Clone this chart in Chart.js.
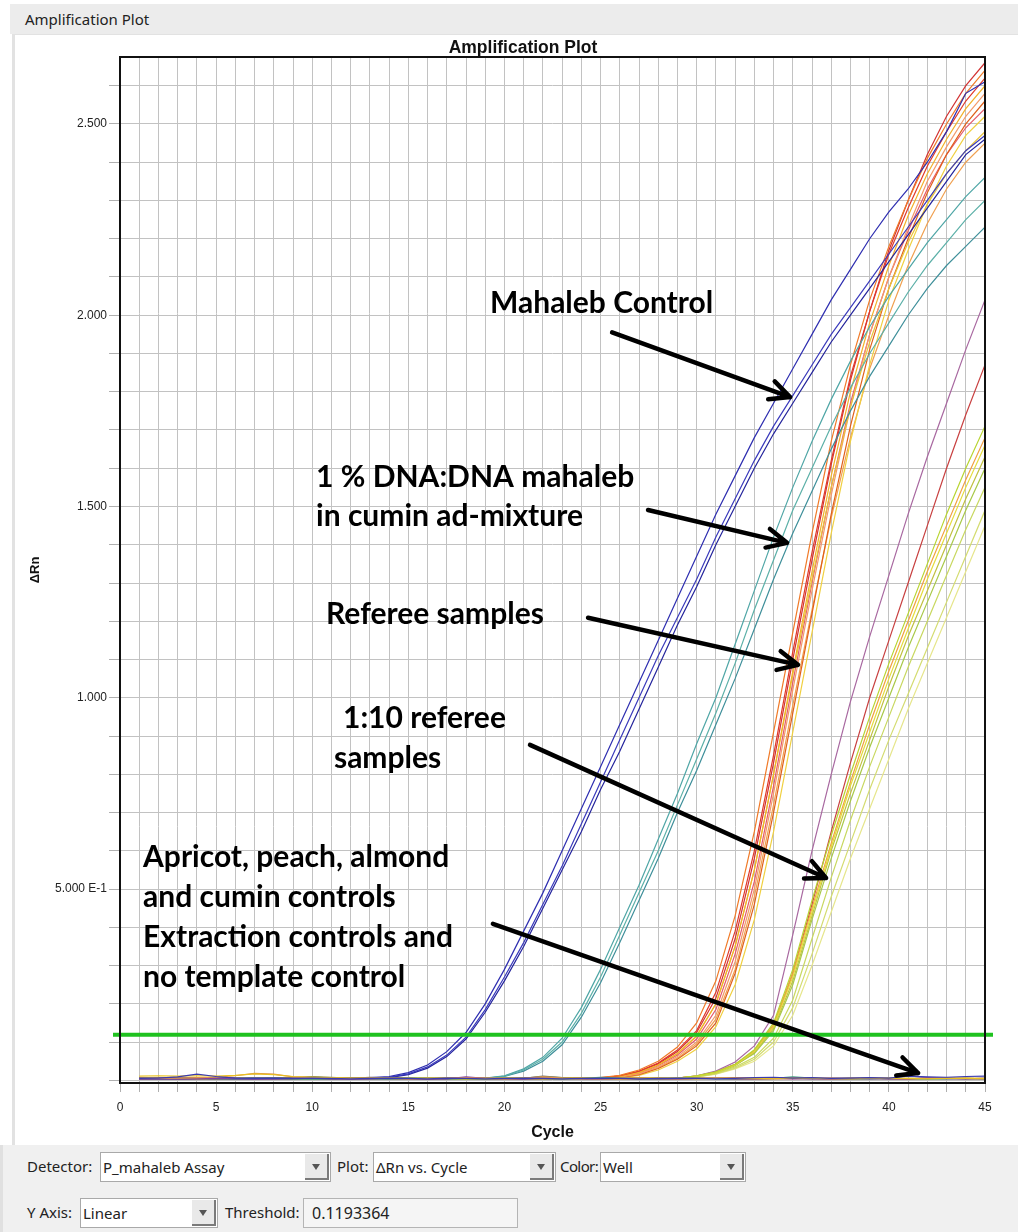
<!DOCTYPE html>
<html>
<head>
<meta charset="utf-8">
<script src="https://cdn.jsdelivr.net/npm/chart.js@4.4.1/dist/chart.umd.min.js"></script>
<style>
  body { margin: 0; width: 1018px; height: 1232px; position: relative; overflow: hidden; background: #fff; font-family: "Noto Sans", sans-serif; color: #222; }
  #hdr { position: absolute; left: 10px; top: 4px; width: 1008px; height: 30px; background: #ececec; font-size: 15px; line-height: 30px; padding-left: 15px; box-sizing: border-box; }
  #panel { position: absolute; left: 12px; top: 34px; width: 1006px; height: 1111px; border-left: 3px solid #e2e2e2; border-top: 1px solid #e2e2e2; box-sizing: border-box; background: #fff; }
  #amp { position: absolute; left: 0; top: 0; }
  #controls { position: absolute; left: 0; top: 1145px; width: 1018px; height: 87px; background: #f0f0f0; border-left: 3px solid #e0e0e0; box-sizing: border-box; }
  .lbl { position: absolute; font-size: 15px; line-height: 20px; }
  .combo { position: absolute; height: 30px; background: #fff; border: 1px solid #a9a9a9; box-sizing: border-box; }
  .combo .txt { position: absolute; left: 2px; top: 4px; font-size: 15px; line-height: 20px; }
  .combo .btn { position: absolute; right: 1px; top: 1px; width: 24px; height: 26px; background: #e9e9e9; border-right: 2px solid #7a7a7a; border-bottom: 2px solid #7a7a7a; box-sizing: border-box; }
  .combo .btn::after { content: ""; position: absolute; left: 7px; top: 10px; border-left: 4px solid transparent; border-right: 4px solid transparent; border-top: 6px solid #555; }
  .field { position: absolute; height: 30px; background: #f5f5f5; border: 1px solid #b4b4b4; box-sizing: border-box; font-size: 16px; line-height: 28px; padding-left: 8px; }
</style>
</head>
<body>
<div id="hdr">Amplification Plot</div>
<div id="panel"></div>
<canvas id="amp" width="1018" height="1145"></canvas>
<div id="controls">
  <div class="lbl" style="left:24px; top:11px;">Detector:</div>
  <div class="combo" style="left:97px; top:7px; width:231px;"><span class="txt">P_mahaleb Assay</span><div class="btn"></div></div>
  <div class="lbl" style="left:334px; top:11px;">Plot:</div>
  <div class="combo" style="left:370px; top:7px; width:183px;"><span class="txt">ΔRn vs. Cycle</span><div class="btn"></div></div>
  <div class="lbl" style="left:557px; top:11px; letter-spacing:-0.6px;">Color:</div>
  <div class="combo" style="left:597px; top:7px; width:146px;"><span class="txt">Well</span><div class="btn"></div></div>
  <div class="lbl" style="left:24px; top:57px;">Y Axis:</div>
  <div class="combo" style="left:77px; top:53px; width:138px;"><span class="txt">Linear</span><div class="btn"></div></div>
  <div class="lbl" style="left:222px; top:57px;">Threshold:</div>
  <div class="field" id="thr" style="left:300px; top:53px; width:215px;"></div>
</div>
<script>
// cycles on the x axis
const cycles = [1,2,3,4,5,6,7,8,9,10,11,12,13,14,15,16,17,18,19,20,21,22,23,24,25,26,27,28,29,30,31,32,33,34,35,36,37,38,39,40,41,42,43,44,45];
const threshold = 0.1193364;

// y tick labels (software style)
const yTickVals = [0.5, 1, 1.5, 2, 2.5];
const yTickText = ["5.000 E-1", "1.000", "1.500", "2.000", "2.500"];

// Mahaleb control (3 wells)
const mahalebA = [0.004,0.006,0.005,0.007,0.005,0.004,0.006,0.005,0.004,0.006,0.005,0.006,0.007,0.01,0.02,0.04,0.075,0.125,0.2,0.29,0.39,0.49,0.6,0.71,0.82,0.93,1.04,1.15,1.26,1.37,1.48,1.58,1.68,1.77,1.86,1.95,2.04,2.12,2.2,2.27,2.33,2.4,2.48,2.58,2.61];
const mahalebB = [0.005,0.004,0.006,0.005,0.004,0.005,0.006,0.004,0.005,0.005,0.006,0.005,0.006,0.008,0.017,0.035,0.066,0.113,0.185,0.27,0.36,0.46,0.56,0.67,0.78,0.89,1.0,1.11,1.21,1.31,1.42,1.52,1.62,1.71,1.79,1.87,1.95,2.02,2.09,2.16,2.23,2.3,2.37,2.43,2.47];
const mahalebC = [0.006,0.005,0.004,0.005,0.006,0.005,0.004,0.005,0.006,0.005,0.004,0.006,0.006,0.007,0.015,0.032,0.062,0.108,0.178,0.26,0.35,0.45,0.55,0.65,0.76,0.86,0.97,1.08,1.19,1.29,1.4,1.5,1.6,1.69,1.77,1.85,1.93,2.0,2.07,2.14,2.21,2.28,2.35,2.42,2.46];

// 1 % DNA:DNA mahaleb in cumin (3 wells)
const mixA = [0.005,0.004,0.006,0.005,0.005,0.004,0.006,0.005,0.004,0.005,0.006,0.005,0.004,0.005,0.006,0.005,0.004,0.005,0.006,0.012,0.03,0.06,0.11,0.19,0.29,0.4,0.51,0.63,0.75,0.88,1.0,1.14,1.28,1.42,1.55,1.67,1.78,1.88,1.97,2.05,2.12,2.19,2.25,2.31,2.36];
const mixB = [0.004,0.005,0.005,0.006,0.004,0.005,0.005,0.006,0.005,0.004,0.005,0.005,0.006,0.004,0.005,0.005,0.006,0.005,0.005,0.011,0.027,0.055,0.1,0.175,0.27,0.38,0.49,0.6,0.72,0.84,0.96,1.09,1.23,1.36,1.49,1.6,1.71,1.81,1.9,1.98,2.06,2.13,2.19,2.25,2.3];
const mixC = [0.005,0.005,0.004,0.005,0.006,0.005,0.004,0.006,0.005,0.005,0.004,0.006,0.005,0.005,0.004,0.006,0.005,0.005,0.005,0.01,0.024,0.05,0.093,0.165,0.255,0.36,0.47,0.58,0.7,0.81,0.93,1.05,1.18,1.31,1.43,1.54,1.65,1.75,1.84,1.92,2.0,2.07,2.13,2.18,2.23];

// referee samples (10 wells)
const ref1 = [0.005,0.004,0.006,0.005,0.004,0.005,0.006,0.005,0.004,0.005,0.006,0.005,0.004,0.005,0.006,0.005,0.004,0.005,0.006,0.005,0.004,0.005,0.006,0.005,0.007,0.013,0.027,0.05,0.087,0.15,0.26,0.43,0.65,0.91,1.17,1.43,1.67,1.87,2.04,2.18,2.3,2.41,2.5,2.58,2.64];
const ref2 = [0.004,0.005,0.005,0.006,0.005,0.004,0.005,0.006,0.005,0.004,0.005,0.005,0.006,0.005,0.004,0.005,0.006,0.005,0.004,0.005,0.006,0.005,0.004,0.006,0.006,0.012,0.024,0.045,0.079,0.13,0.23,0.39,0.6,0.85,1.12,1.38,1.62,1.84,2.01,2.16,2.28,2.39,2.48,2.56,2.62];
const ref3 = [0.006,0.005,0.004,0.005,0.006,0.005,0.004,0.005,0.006,0.005,0.004,0.005,0.006,0.005,0.004,0.006,0.005,0.004,0.005,0.006,0.005,0.004,0.005,0.006,0.006,0.01,0.02,0.04,0.07,0.115,0.2,0.35,0.55,0.8,1.07,1.33,1.58,1.8,1.98,2.13,2.26,2.37,2.46,2.54,2.6];
const ref4 = [0.005,0.006,0.005,0.004,0.005,0.006,0.005,0.004,0.005,0.006,0.005,0.004,0.005,0.006,0.005,0.004,0.005,0.006,0.005,0.004,0.005,0.006,0.005,0.004,0.006,0.01,0.021,0.04,0.07,0.117,0.2,0.35,0.55,0.8,1.06,1.31,1.55,1.76,1.93,2.07,2.19,2.29,2.37,2.43,2.48];
const ref5 = [0.004,0.005,0.006,0.005,0.004,0.005,0.006,0.005,0.004,0.005,0.006,0.005,0.004,0.005,0.006,0.005,0.004,0.005,0.006,0.005,0.004,0.005,0.006,0.005,0.005,0.008,0.017,0.035,0.062,0.1,0.17,0.31,0.5,0.75,1.02,1.28,1.53,1.76,1.95,2.1,2.23,2.35,2.44,2.52,2.58];
const ref6 = [0.005,0.005,0.004,0.006,0.005,0.005,0.004,0.006,0.005,0.005,0.004,0.006,0.005,0.005,0.004,0.006,0.005,0.005,0.004,0.006,0.005,0.005,0.004,0.005,0.005,0.007,0.015,0.031,0.055,0.09,0.15,0.28,0.46,0.7,0.96,1.22,1.48,1.71,1.91,2.07,2.2,2.32,2.42,2.5,2.56];
const ref7 = [0.006,0.004,0.005,0.005,0.006,0.004,0.005,0.005,0.006,0.004,0.005,0.005,0.006,0.004,0.005,0.005,0.006,0.004,0.005,0.005,0.006,0.004,0.005,0.005,0.005,0.006,0.013,0.027,0.05,0.082,0.14,0.25,0.42,0.65,0.91,1.17,1.43,1.67,1.87,2.04,2.17,2.29,2.39,2.47,2.52];
const ref8 = [0.005,0.006,0.004,0.005,0.006,0.004,0.005,0.006,0.004,0.005,0.006,0.004,0.005,0.006,0.004,0.005,0.006,0.004,0.005,0.006,0.004,0.005,0.006,0.005,0.007,0.011,0.022,0.043,0.075,0.125,0.215,0.37,0.58,0.83,1.1,1.36,1.61,1.83,2.01,2.17,2.3,2.42,2.52,2.6,2.66];
const ref9 = [0.004,0.004,0.005,0.006,0.005,0.004,0.004,0.005,0.006,0.005,0.004,0.004,0.005,0.006,0.005,0.004,0.004,0.005,0.006,0.005,0.004,0.004,0.005,0.006,0.005,0.008,0.016,0.033,0.058,0.095,0.16,0.29,0.48,0.72,0.98,1.23,1.47,1.68,1.86,2.0,2.13,2.24,2.33,2.4,2.45];
const ref10 = [0.005,0.005,0.006,0.004,0.005,0.005,0.006,0.004,0.005,0.005,0.006,0.004,0.005,0.005,0.006,0.004,0.005,0.005,0.006,0.004,0.005,0.005,0.006,0.004,0.006,0.009,0.019,0.038,0.066,0.108,0.185,0.33,0.52,0.77,1.04,1.3,1.55,1.77,1.95,2.1,2.22,2.33,2.42,2.49,2.54];

// 1:10 referee samples (10 wells)
const dil1 = [0.005,0.004,0.006,0.005,0.004,0.005,0.006,0.005,0.004,0.005,0.006,0.005,0.004,0.005,0.006,0.005,0.004,0.005,0.006,0.005,0.004,0.005,0.006,0.005,0.004,0.005,0.006,0.005,0.006,0.012,0.022,0.042,0.08,0.15,0.29,0.47,0.64,0.8,0.95,1.09,1.22,1.35,1.48,1.6,1.71];
const dil2 = [0.004,0.005,0.005,0.006,0.005,0.004,0.005,0.005,0.006,0.005,0.004,0.005,0.005,0.006,0.005,0.004,0.005,0.005,0.006,0.005,0.004,0.005,0.005,0.006,0.005,0.004,0.005,0.005,0.006,0.011,0.02,0.04,0.075,0.14,0.27,0.44,0.61,0.77,0.91,1.05,1.18,1.31,1.43,1.55,1.66];
const dil3 = [0.006,0.005,0.004,0.005,0.006,0.005,0.004,0.005,0.006,0.005,0.004,0.005,0.006,0.005,0.004,0.005,0.006,0.005,0.004,0.005,0.006,0.005,0.004,0.005,0.006,0.005,0.004,0.005,0.005,0.01,0.02,0.04,0.07,0.13,0.25,0.42,0.58,0.73,0.87,1.0,1.13,1.25,1.37,1.49,1.6];
const dil4 = [0.005,0.006,0.005,0.004,0.005,0.006,0.005,0.004,0.005,0.006,0.005,0.004,0.005,0.006,0.005,0.004,0.005,0.006,0.005,0.004,0.005,0.006,0.005,0.004,0.005,0.006,0.005,0.004,0.005,0.009,0.018,0.035,0.06,0.11,0.21,0.37,0.53,0.68,0.82,0.95,1.08,1.2,1.32,1.44,1.55];
const dil5 = [0.004,0.005,0.006,0.005,0.004,0.005,0.006,0.005,0.004,0.005,0.006,0.005,0.004,0.005,0.006,0.005,0.004,0.005,0.006,0.005,0.004,0.005,0.006,0.005,0.004,0.005,0.006,0.005,0.005,0.009,0.017,0.032,0.055,0.1,0.19,0.33,0.48,0.62,0.76,0.89,1.01,1.13,1.25,1.37,1.49];
const dil6 = [0.005,0.005,0.004,0.006,0.005,0.005,0.004,0.006,0.005,0.005,0.004,0.006,0.005,0.005,0.004,0.006,0.005,0.005,0.004,0.006,0.005,0.005,0.004,0.006,0.005,0.005,0.004,0.005,0.004,0.008,0.016,0.03,0.05,0.09,0.17,0.3,0.44,0.58,0.71,0.84,0.97,1.09,1.21,1.33,1.45];
const dil7 = [0.006,0.004,0.005,0.005,0.006,0.004,0.005,0.005,0.006,0.004,0.005,0.005,0.006,0.004,0.005,0.005,0.006,0.004,0.005,0.005,0.006,0.004,0.005,0.005,0.006,0.004,0.005,0.005,0.006,0.011,0.021,0.041,0.078,0.145,0.28,0.45,0.62,0.78,0.93,1.07,1.2,1.33,1.45,1.57,1.68];
const dil8 = [0.005,0.006,0.004,0.005,0.006,0.004,0.005,0.006,0.004,0.005,0.006,0.004,0.005,0.006,0.004,0.005,0.006,0.004,0.005,0.006,0.004,0.005,0.006,0.004,0.005,0.006,0.004,0.005,0.005,0.01,0.019,0.038,0.072,0.135,0.26,0.43,0.6,0.75,0.89,1.03,1.16,1.28,1.4,1.52,1.63];
const dil9 = [0.004,0.004,0.005,0.006,0.005,0.004,0.004,0.005,0.006,0.005,0.004,0.004,0.005,0.006,0.005,0.004,0.004,0.005,0.006,0.005,0.004,0.004,0.005,0.006,0.005,0.004,0.004,0.005,0.006,0.012,0.024,0.048,0.09,0.17,0.38,0.6,0.8,0.99,1.16,1.32,1.48,1.63,1.77,1.91,2.04];
const dil10 = [0.005,0.005,0.006,0.004,0.005,0.005,0.006,0.004,0.005,0.005,0.006,0.004,0.005,0.005,0.006,0.004,0.005,0.005,0.006,0.004,0.005,0.005,0.006,0.004,0.005,0.005,0.006,0.004,0.006,0.011,0.022,0.042,0.075,0.14,0.28,0.46,0.65,0.83,1.0,1.15,1.3,1.45,1.6,1.74,1.87];

// negative controls, extraction controls, NTC (8 wells)
const neg1 = [0.005,0.006,0.009,0.016,0.01,0.006,0.005,0.006,0.005,0.006,0.005,0.004,0.005,0.006,0.005,0.004,0.006,0.005,0.004,0.005,0.006,0.005,0.004,0.005,0.006,0.005,0.004,0.005,0.006,0.005,0.004,0.005,0.007,0.008,0.006,0.007,0.005,0.006,0.007,0.006,0.011,0.009,0.008,0.01,0.011];
const neg2 = [0.011,0.012,0.011,0.012,0.011,0.013,0.017,0.015,0.01,0.008,0.007,0.006,0.005,0.006,0.005,0.006,0.005,0.004,0.005,0.006,0.005,0.004,0.005,0.006,0.005,0.004,0.005,0.006,0.005,0.004,0.005,0.006,0.005,0.004,0.005,0.006,0.005,0.004,0.005,0.006,0.005,0.004,0.005,0.006,0.005];
const neg3 = [0.006,0.005,0.006,0.007,0.008,0.012,0.018,0.016,0.009,0.007,0.006,0.005,0.006,0.005,0.004,0.005,0.006,0.007,0.005,0.004,0.005,0.009,0.006,0.005,0.004,0.005,0.006,0.005,0.004,0.005,0.006,0.005,0.004,0.005,0.006,0.005,0.004,0.005,0.006,0.005,0.004,0.005,0.006,0.005,0.004];
const neg4 = [0.003,0.004,0.003,0.004,0.005,0.004,0.003,0.004,0.005,0.006,0.004,0.003,0.004,0.005,0.004,0.003,0.004,0.009,0.005,0.004,0.003,0.004,0.005,0.004,0.003,0.004,0.005,0.004,0.003,0.004,0.005,0.004,0.003,0.004,0.005,0.004,0.003,0.004,0.005,0.004,0.003,0.007,0.005,0.004,0.006];
const neg5 = [0.004,0.005,0.006,0.005,0.004,0.005,0.006,0.005,0.007,0.01,0.008,0.005,0.006,0.007,0.005,0.004,0.006,0.005,0.004,0.005,0.006,0.01,0.007,0.005,0.004,0.006,0.005,0.004,0.005,0.006,0.005,0.004,0.005,0.006,0.005,0.004,0.005,0.006,0.005,0.004,0.005,0.006,0.005,0.004,0.005];
const neg6 = [0.004,0.003,0.004,0.005,0.004,0.003,0.004,0.005,0.004,0.003,0.004,0.005,0.004,0.003,0.004,0.005,0.004,0.003,0.004,0.005,0.004,0.003,0.004,0.005,0.008,0.006,0.004,0.003,0.004,0.005,0.004,0.003,0.004,0.005,0.009,0.006,0.004,0.003,0.004,0.005,0.004,0.003,0.004,0.005,0.004];
const neg7 = [0.005,0.004,0.005,0.006,0.005,0.004,0.005,0.006,0.005,0.009,0.006,0.005,0.008,0.006,0.005,0.004,0.005,0.006,0.005,0.004,0.005,0.011,0.007,0.005,0.004,0.005,0.006,0.005,0.004,0.005,0.006,0.005,0.004,0.005,0.006,0.005,0.004,0.005,0.006,0.005,0.004,0.005,0.006,0.005,0.004];
const neg8 = [0.004,0.005,0.004,0.005,0.004,0.005,0.004,0.005,0.004,0.005,0.004,0.005,0.004,0.005,0.004,0.005,0.004,0.005,0.006,0.005,0.004,0.005,0.006,0.005,0.004,0.005,0.004,0.005,0.004,0.005,0.006,0.007,0.006,0.005,0.004,0.005,0.006,0.005,0.004,0.005,0.004,0.005,0.004,0.005,0.004];

const wellData = [neg1, neg2, neg3, neg4, neg5, neg6, neg7, neg8,
  mahalebA, mahalebB, mahalebC, mixA, mixB, mixC,
  dil1, dil2, dil3, dil4, dil5, dil6, dil7, dil8, dil9, dil10,
  ref1, ref2, ref3, ref4, ref5, ref6, ref7, ref8, ref9, ref10];
const wellColors = ["#3a3ab0", "#e8c020", "#e09050", "#8040a0", "#909050", "#40a080", "#707070", "#b04080",
  "#2e2eb0", "#3a3abc", "#24249c", "#4fa6a6", "#5cb0a8", "#3e8f9a",
  "#b8d430", "#e4dc3c", "#a8c848", "#c8d860", "#d4dc70", "#e6e68c", "#f0a040", "#c0c040", "#a868a0", "#c84040",
  "#f07a28", "#e03a2a", "#f2b12a", "#e9c43a", "#f39a6a", "#e0601a", "#f0d040", "#d23232", "#f0a050", "#e45a6a"];

// annotation text, anchored in (cycle, dRn)
const noteText = [
  ["Mahaleb Control", 19.25, 2.032],
  ["1 % DNA:DNA mahaleb", 10.2, 1.577],
  ["in cumin ad-mixture", 10.2, 1.473],
  ["Referee samples", 10.72, 1.218],
  ["1:10 referee", 11.6, 0.947],
  ["samples", 11.13, 0.843],
  ["Apricot, peach, almond", 1.2, 0.584],
  ["and cumin controls", 1.2, 0.479],
  ["Extraction controls and", 1.2, 0.375],
  ["no template control", 1.2, 0.270]
];
const noteArrows = [
  [25.6, 1.955, 34.86, 1.786],
  [27.47, 1.491, 34.7, 1.405],
  [24.35, 1.209, 35.27, 1.086],
  [21.33, 0.877, 36.73, 0.529],
  [19.4, 0.409, 41.52, 0.019]
];

document.getElementById("thr").textContent = String(threshold);

const datasets = wellData.map((arr, i) => ({
  data: cycles.map((c, j) => ({ x: c, y: arr[j] })),
  borderColor: wellColors[i],
  borderWidth: 1.2,
  pointRadius: 0,
  tension: 0,
  fill: false
}));

const overlay = {
  id: "overlay",
  afterDatasetsDraw(chart) {
    const { ctx, chartArea: a, scales: { x, y } } = chart;
    ctx.save();
    // threshold line
    const ty = y.getPixelForValue(threshold);
    ctx.strokeStyle = "#1fc21f";
    ctx.lineWidth = 4;
    ctx.beginPath();
    ctx.moveTo(a.left - 7, ty);
    ctx.lineTo(a.right + 8, ty);
    ctx.stroke();
    // plot frame
    ctx.strokeStyle = "#111";
    ctx.lineWidth = 2;
    ctx.strokeRect(a.left, a.top, a.right - a.left, a.bottom - a.top);
    // chart title
    ctx.fillStyle = "#111";
    ctx.font = "bold 17.5px 'Liberation Sans'";
    ctx.textAlign = "center";
    ctx.textBaseline = "middle";
    ctx.fillText("Amplification Plot", chart.width / 2 + 14, a.top - 9);
    // notes
    ctx.fillStyle = "#000";
    ctx.font = "bold 30px Lato";
    ctx.textAlign = "left";
    noteText.forEach(([t, cx, cy]) => {
      ctx.fillText(t, x.getPixelForValue(cx), y.getPixelForValue(cy));
    });
    ctx.strokeStyle = "#000";
    ctx.lineWidth = 4.5;
    ctx.lineCap = "round";
    ctx.lineJoin = "round";
    noteArrows.forEach(([c1, v1, c2, v2]) => {
      const x1 = x.getPixelForValue(c1), y1 = y.getPixelForValue(v1);
      const x2 = x.getPixelForValue(c2), y2 = y.getPixelForValue(v2);
      const ang = Math.atan2(y2 - y1, x2 - x1);
      ctx.beginPath();
      ctx.moveTo(x1, y1);
      ctx.lineTo(x2, y2);
      [-1, 1].forEach(s => {
        ctx.moveTo(x2, y2);
        ctx.lineTo(x2 - 22 * Math.cos(ang + s * 0.45), y2 - 22 * Math.sin(ang + s * 0.45));
      });
      ctx.stroke();
    });
    ctx.restore();
  }
};

Chart.defaults.font.family = "'Liberation Sans', Arial, sans-serif";
Chart.defaults.color = "#222";

function draw() {
  new Chart(document.getElementById("amp").getContext("2d"), {
    type: "line",
    data: { datasets },
    options: {
      responsive: false,
      animation: false,
      devicePixelRatio: 1,
      layout: { padding: { top: 57, right: 33, left: 0, bottom: 0 } },
      plugins: {
        legend: { display: false },
        tooltip: { enabled: false },
        title: { display: false }
      },
      scales: {
        x: {
          type: "linear",
          min: 0,
          max: 45,
          afterFit: s => { s.height = 62; },
          border: { display: false },
          grid: { color: "#c2c2c2", tickColor: "#b0b0b0", tickLength: 9 },
          ticks: {
            stepSize: 1,
            autoSkip: false,
            maxRotation: 0,
            padding: 8,
            font: { size: 12 },
            callback: v => (v % 5 === 0 ? String(v) : "")
          },
          title: { display: true, text: "Cycle", color: "#111", font: { size: 16, weight: "bold" }, padding: { top: 0, bottom: 3 } }
        },
        y: {
          type: "linear",
          min: -0.007,
          max: 2.675,
          afterFit: s => { s.width = 120; },
          border: { display: false },
          grid: { color: "#c2c2c2", tickColor: "#b0b0b0", tickLength: 11 },
          ticks: {
            stepSize: 0.1,
            includeBounds: false,
            padding: 2,
            font: { size: 12 },
            callback: v => {
              const k = yTickVals.findIndex(t => Math.abs(t - v) < 1e-6);
              return k >= 0 ? yTickText[k] : "";
            }
          },
          title: { display: true, text: "ΔRn", color: "#111", font: { size: 13, weight: "bold" }, padding: { top: 28, bottom: 0 } }
        }
      }
    },
    plugins: [overlay]
  });
}

document.fonts.load("bold 30px Lato").then(draw, draw);
</script>
</body>
</html>
